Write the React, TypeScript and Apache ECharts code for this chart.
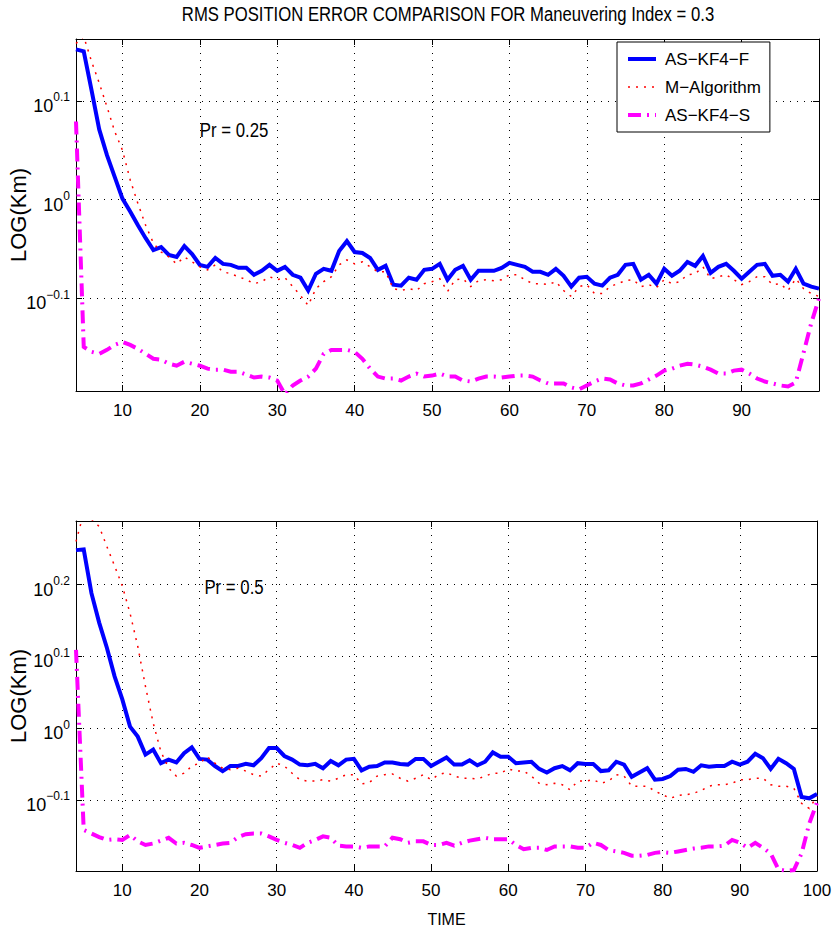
import React, { useEffect, useRef } from "react";
import * as echarts from "echarts";

const TIME = [
  4, 5, 6, 7, 8, 9, 10, 11, 12, 13,
  14, 15, 16, 17, 18, 19, 20, 21, 22, 23,
  24, 25, 26, 27, 28, 29, 30, 31, 32, 33,
  34, 35, 36, 37, 38, 39, 40, 41, 42, 43,
  44, 45, 46, 47, 48, 49, 50, 51, 52, 53,
  54, 55, 56, 57, 58, 59, 60, 61, 62, 63,
  64, 65, 66, 67, 68, 69, 70, 71, 72, 73,
  74, 75, 76, 77, 78, 79, 80, 81, 82, 83,
  84, 85, 86, 87, 88, 89, 90, 91, 92, 93,
  94, 95, 96, 97, 98, 99, 100,
];

// log10 of RMS position error (km), Pr = 0.25
const TOP_ASKF4F = [
  0.152, 0.150, 0.111, 0.071, 0.045, 0.023, 0.001, -0.012, -0.026, -0.039,
  -0.051, -0.048, -0.056, -0.058, -0.047, -0.055, -0.066, -0.068, -0.059, -0.065,
  -0.066, -0.069, -0.069, -0.076, -0.072, -0.066, -0.072, -0.068, -0.076, -0.079,
  -0.092, -0.075, -0.070, -0.072, -0.052, -0.042, -0.053, -0.054, -0.059, -0.071,
  -0.067, -0.086, -0.087, -0.079, -0.081, -0.071, -0.070, -0.065, -0.081, -0.071,
  -0.067, -0.081, -0.072, -0.072, -0.072, -0.069, -0.064, -0.066, -0.068, -0.073,
  -0.073, -0.076, -0.070, -0.077, -0.088, -0.079, -0.078, -0.085, -0.087, -0.079,
  -0.076, -0.066, -0.065, -0.081, -0.076, -0.085, -0.070, -0.077, -0.072, -0.063,
  -0.067, -0.057, -0.074, -0.068, -0.065, -0.072, -0.080, -0.073, -0.066, -0.065,
  -0.077, -0.076, -0.083, -0.070, -0.085, -0.088, -0.090,
];
const TOP_MALG = [
  0.158, 0.165, 0.140, 0.118, 0.094, 0.069, 0.050, 0.020, -0.004, -0.026,
  -0.044, -0.053, -0.058, -0.065, -0.058, -0.063, -0.068, -0.071, -0.066, -0.073,
  -0.075, -0.078, -0.081, -0.085, -0.083, -0.078, -0.081, -0.079, -0.088, -0.097,
  -0.107, -0.090, -0.083, -0.078, -0.066, -0.061, -0.065, -0.063, -0.068, -0.073,
  -0.073, -0.090, -0.092, -0.090, -0.092, -0.085, -0.083, -0.080, -0.093, -0.081,
  -0.080, -0.088, -0.082, -0.081, -0.082, -0.081, -0.076, -0.076, -0.081, -0.085,
  -0.085, -0.086, -0.083, -0.092, -0.098, -0.088, -0.086, -0.095, -0.095, -0.088,
  -0.085, -0.082, -0.081, -0.088, -0.086, -0.089, -0.081, -0.085, -0.083, -0.076,
  -0.075, -0.068, -0.080, -0.078, -0.076, -0.081, -0.086, -0.083, -0.078, -0.078,
  -0.086, -0.085, -0.092, -0.080, -0.090, -0.095, -0.098,
];
const TOP_ASKF4S = [
  0.079, -0.149, -0.154, -0.156, -0.152, -0.147, -0.144, -0.147, -0.151, -0.156,
  -0.161, -0.162, -0.166, -0.168, -0.164, -0.166, -0.168, -0.171, -0.172, -0.172,
  -0.174, -0.174, -0.177, -0.180, -0.179, -0.180, -0.183, -0.197, -0.188, -0.183,
  -0.179, -0.171, -0.156, -0.152, -0.152, -0.152, -0.154, -0.161, -0.171, -0.179,
  -0.181, -0.181, -0.183, -0.179, -0.176, -0.179, -0.178, -0.176, -0.179, -0.179,
  -0.183, -0.184, -0.181, -0.179, -0.179, -0.180, -0.179, -0.178, -0.178, -0.179,
  -0.183, -0.186, -0.186, -0.186, -0.190, -0.192, -0.188, -0.184, -0.181, -0.182,
  -0.186, -0.188, -0.188, -0.186, -0.182, -0.178, -0.173, -0.171, -0.168, -0.166,
  -0.167, -0.169, -0.172, -0.176, -0.176, -0.173, -0.172, -0.176, -0.181, -0.184,
  -0.186, -0.188, -0.189, -0.185, -0.155, -0.125, -0.100,
];

// log10 of RMS position error (km), Pr = 0.5
const BOT_ASKF4F = [
  0.248, 0.249, 0.188, 0.147, 0.112, 0.072, 0.040, 0.002, -0.012, -0.037,
  -0.030, -0.049, -0.044, -0.048, -0.035, -0.027, -0.043, -0.044, -0.053, -0.060,
  -0.053, -0.053, -0.050, -0.052, -0.042, -0.028, -0.028, -0.039, -0.044, -0.051,
  -0.052, -0.050, -0.056, -0.046, -0.052, -0.044, -0.043, -0.059, -0.054, -0.053,
  -0.048, -0.048, -0.050, -0.051, -0.043, -0.043, -0.053, -0.047, -0.041, -0.051,
  -0.051, -0.045, -0.052, -0.047, -0.034, -0.040, -0.040, -0.049, -0.048, -0.047,
  -0.057, -0.062, -0.056, -0.053, -0.059, -0.049, -0.050, -0.050, -0.060, -0.059,
  -0.047, -0.051, -0.068, -0.062, -0.056, -0.072, -0.071, -0.067, -0.058, -0.057,
  -0.061, -0.052, -0.054, -0.053, -0.053, -0.047, -0.051, -0.047, -0.036, -0.042,
  -0.057, -0.043, -0.049, -0.057, -0.096, -0.098, -0.092,
];
const BOT_MALG = [
  0.260, 0.300, 0.291, 0.281, 0.253, 0.226, 0.198, 0.160, 0.114, 0.058,
  0.007, -0.033, -0.056, -0.067, -0.063, -0.053, -0.049, -0.040, -0.049, -0.056,
  -0.058, -0.056, -0.060, -0.065, -0.067, -0.058, -0.049, -0.053, -0.063, -0.072,
  -0.074, -0.074, -0.072, -0.074, -0.070, -0.065, -0.065, -0.078, -0.076, -0.067,
  -0.065, -0.064, -0.070, -0.074, -0.070, -0.065, -0.072, -0.065, -0.062, -0.067,
  -0.070, -0.070, -0.071, -0.067, -0.063, -0.063, -0.057, -0.060, -0.060, -0.067,
  -0.077, -0.079, -0.077, -0.079, -0.086, -0.074, -0.074, -0.072, -0.077, -0.074,
  -0.065, -0.067, -0.081, -0.081, -0.081, -0.088, -0.093, -0.098, -0.094, -0.093,
  -0.091, -0.087, -0.081, -0.079, -0.079, -0.077, -0.072, -0.072, -0.070, -0.070,
  -0.079, -0.081, -0.081, -0.084, -0.105, -0.112, -0.095,
];
const BOT_ASKF4S = [
  0.109, -0.142, -0.147, -0.152, -0.156, -0.155, -0.156, -0.149, -0.158, -0.163,
  -0.161, -0.157, -0.153, -0.161, -0.160, -0.163, -0.167, -0.165, -0.163, -0.161,
  -0.160, -0.152, -0.148, -0.147, -0.147, -0.151, -0.156, -0.160, -0.163, -0.167,
  -0.160, -0.156, -0.151, -0.153, -0.164, -0.165, -0.165, -0.167, -0.165, -0.165,
  -0.165, -0.153, -0.155, -0.160, -0.158, -0.158, -0.163, -0.163, -0.160, -0.164,
  -0.160, -0.157, -0.155, -0.153, -0.155, -0.155, -0.155, -0.163, -0.169, -0.167,
  -0.167, -0.170, -0.165, -0.165, -0.165, -0.167, -0.167, -0.160, -0.163, -0.170,
  -0.172, -0.174, -0.178, -0.178, -0.177, -0.174, -0.173, -0.174, -0.172, -0.170,
  -0.168, -0.167, -0.165, -0.165, -0.164, -0.156, -0.160, -0.167, -0.160, -0.167,
  -0.175, -0.197, -0.199, -0.198, -0.175, -0.133, -0.104,
];

const SERIES_NAMES = ["AS\u2212KF4\u2212F", "M\u2212Algorithm", "AS\u2212KF4\u2212S"];
const TITLE = "RMS POSITION ERROR COMPARISON FOR Maneuvering Index = 0.3";
const PANEL_LABELS = ["Pr = 0.25", "Pr = 0.5"];
const X_TICKS_TOP = [10, 20, 30, 40, 50, 60, 70, 80, 90];
const X_TICKS_BOTTOM = [10, 20, 30, 40, 50, 60, 70, 80, 90, 100];
const Y_TICKS_TOP = [-0.1, 0, 0.1];
const Y_TICKS_BOTTOM = [-0.1, 0, 0.1, 0.2];

const SANS = "'Liberation Sans', Arial, Helvetica, sans-serif";

function expLabel(v: number) {
  const s = Math.abs(v) < 1e-9 ? "0" : (v < 0 ? "\u2212" : "") + Math.abs(v).toFixed(1);
  return `{b|10}{s|${s}}`;
}

const yRich = {
  b: { fontSize: 18, fontFamily: SANS, color: "#000", lineHeight: 19, padding: [10, 0, 0, 0] },
  s: { fontSize: 12, fontFamily: SANS, color: "#000", lineHeight: 12, verticalAlign: "top" },
};

const gridLine = { show: true, lineStyle: { color: "#000", width: 1, type: [1, 6] } };
const blackLine = { show: true, onZero: false, lineStyle: { color: "#000", width: 1 } };

function xAxes(gridIndex: number, ticks: number[], withName: boolean) {
  return [
    {
      type: "value",
      gridIndex,
      position: "bottom",
      min: 4,
      max: 100,
      axisLine: blackLine,
      axisTick: { show: true, inside: true, length: 6, customValues: ticks, lineStyle: { color: "#000" } },
      axisLabel: {
        customValues: ticks,
        color: "#000",
        fontSize: 17,
        fontFamily: SANS,
        margin: 11,
        showMinLabel: true,
        showMaxLabel: true,
      },
      splitLine: gridLine,
      name: withName ? "TIME" : "",
      nameLocation: "middle",
      nameGap: 40,
      nameMoveOverlap: false,
      nameTextStyle: { color: "#000", fontSize: 16, fontFamily: SANS },
    },
    {
      type: "value",
      gridIndex,
      position: "top",
      min: 4,
      max: 100,
      axisLine: blackLine,
      axisTick: { show: true, inside: true, length: 6, customValues: ticks, lineStyle: { color: "#000" } },
      axisLabel: { show: false },
      splitLine: { show: false },
    },
  ];
}

function yAxes(gridIndex: number, min: number, max: number, ticks: number[]) {
  return [
    {
      type: "value",
      gridIndex,
      position: "left",
      min,
      max,
      axisLine: blackLine,
      axisTick: { show: true, inside: true, length: 6, customValues: ticks, lineStyle: { color: "#000" } },
      axisLabel: {
        customValues: ticks,
        formatter: expLabel,
        rich: yRich,
        margin: 6,
      },
      splitLine: gridLine,
      name: "LOG(Km)",
      nameLocation: "middle",
      nameRotate: 90,
      nameGap: 47,
      nameMoveOverlap: false,
      nameTextStyle: { color: "#000", fontSize: 22, fontFamily: SANS },
    },
    {
      type: "value",
      gridIndex,
      position: "right",
      min,
      max,
      axisLine: blackLine,
      axisTick: { show: true, inside: true, length: 6, customValues: ticks, lineStyle: { color: "#000" } },
      axisLabel: { show: false },
      splitLine: { show: false },
    },
  ];
}

function lineSeries(name: string, values: number[], axisIdx: number, kind: number) {
  const styles = [
    { color: "#0000ff", width: 4, type: "solid" },
    { color: "#ff0000", width: 1.5, type: [2, 6] },
    { color: "#ff00ff", width: 4, type: [13, 6, 2, 6] },
  ];
  const ls = styles[kind];
  return {
    type: "line",
    name,
    xAxisIndex: axisIdx,
    yAxisIndex: axisIdx,
    data: TIME.map((t, i) => [t, values[i]]),
    showSymbol: false,
    symbol: "none",
    clip: true,
    color: ls.color,
    lineStyle: { color: ls.color, width: ls.width, type: ls.type, join: "miter" },
    itemStyle: { color: ls.color },
  };
}

export default function App() {
  const ref = useRef<HTMLDivElement>(null);
  useEffect(() => {
    if (!ref.current) return;
    const chart = echarts.init(ref.current, undefined, { renderer: "svg" });
    const option = {
      animation: false,
      backgroundColor: "#fff",
      grid: [
        { left: 76, top: 39, right: 13, height: 352, containLabel: false, outerBoundsMode: "none" },
        { left: 76, top: 521, right: 15, height: 350, containLabel: false, outerBoundsMode: "none" },
      ],
      xAxis: [...xAxes(0, X_TICKS_TOP, false), ...xAxes(1, X_TICKS_BOTTOM, true)],
      yAxis: [
        ...yAxes(0, -0.1936, 0.1625, Y_TICKS_TOP),
        ...yAxes(1, -0.1993, 0.2886, Y_TICKS_BOTTOM),
      ],
      legend: {
        orient: "vertical",
        left: 617,
        top: 42,
        itemWidth: 28,
        itemHeight: 14,
        itemGap: 8,
        padding: [7, 9, 7, 9],
        backgroundColor: "#fff",
        borderColor: "#000",
        borderWidth: 1,
        borderRadius: 0,
        itemStyle: { opacity: 0 },
        lineStyle: { width: "inherit" },
        textStyle: { fontSize: 17, fontFamily: SANS, color: "#000", lineHeight: 20, padding: [0, 0, 0, 4] },
        data: SERIES_NAMES,
      },
      graphic: [
        {
          type: "text",
          x: 448,
          y: 14,
          scaleX: 0.835,
          style: { text: TITLE, fill: "#000", font: `20px ${SANS}`, textAlign: "center", textVerticalAlign: "middle" },
        },
        {
          type: "text",
          x: 234,
          y: 130,
          scaleX: 0.8,
          style: { text: PANEL_LABELS[0], fill: "#000", font: `21px ${SANS}`, textAlign: "center", textVerticalAlign: "middle" },
        },
        {
          type: "text",
          x: 234,
          y: 587,
          scaleX: 0.8,
          style: { text: PANEL_LABELS[1], fill: "#000", font: `21px ${SANS}`, textAlign: "center", textVerticalAlign: "middle" },
        },
      ],
      series: [
        lineSeries(SERIES_NAMES[0], TOP_ASKF4F, 0, 0),
        lineSeries(SERIES_NAMES[1], TOP_MALG, 0, 1),
        lineSeries(SERIES_NAMES[2], TOP_ASKF4S, 0, 2),
        lineSeries(SERIES_NAMES[0], BOT_ASKF4F, 2, 0),
        lineSeries(SERIES_NAMES[1], BOT_MALG, 2, 1),
        lineSeries(SERIES_NAMES[2], BOT_ASKF4S, 2, 2),
      ],
    };
    chart.setOption(option as any);
    return () => chart.dispose();
  }, []);
  return (
    <div
      ref={ref}
      style={{ position: "absolute", left: 0, top: 0, width: 832, height: 935, background: "#fff" }}
    />
  );
}
